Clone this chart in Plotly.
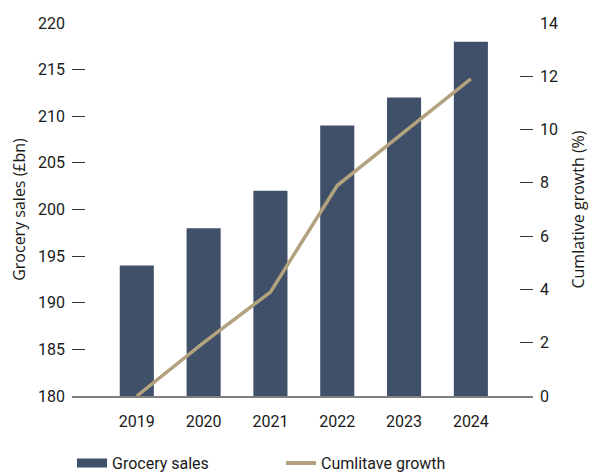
import plotly.graph_objects as go

years = ["2019", "2020", "2021", "2022", "2023", "2024"]
sales = [194, 198, 202, 209, 212, 218]
growth = [0, 2.0, 3.9, 7.9, 9.9, 11.9]
left_ticks = [180, 185, 190, 195, 200, 205, 210, 215, 220]
right_ticks = [0, 2, 4, 6, 8, 10, 12, 14]

BAR = "#3F5068"
LINE = "#B3A27E"
TICKFONT = dict(family="Roboto", size=16, color="#1a1a1a")
TITLEFONT = dict(family="Open Sans", size=16, color="#1a1a1a")

xpos = list(range(len(years)))

fig = go.Figure()
fig.add_trace(go.Bar(x=xpos, y=sales, marker=dict(color=BAR, line=dict(width=0)),
                     width=0.51, showlegend=False, name="Grocery sales"))
fig.add_trace(go.Scatter(x=xpos, y=growth, yaxis="y2", mode="lines",
                         line=dict(color=LINE, width=3.5), showlegend=False,
                         name="Cumlitave growth"))
# legend proxies
fig.add_trace(go.Scatter(x=[None], y=[None], mode="lines", name="Grocery sales",
                         line=dict(color=BAR, width=9)))
fig.add_trace(go.Scatter(x=[None], y=[None], mode="lines", name="Cumlitave growth",
                         line=dict(color=LINE, width=4)))

fig.update_layout(
    width=589, height=475,
    margin=dict(l=72, r=56, t=23, b=79, autoexpand=False),
    plot_bgcolor="white", paper_bgcolor="white",
    xaxis=dict(range=[-0.97, 5.93], tickvals=xpos, ticktext=years, showgrid=False,
               zeroline=False, showline=True, linecolor="#808080", linewidth=1.5,
               ticks="", tickfont=TICKFONT, ticklabelstandoff=10),
    yaxis=dict(range=[180, 220], tickvals=left_ticks, showgrid=False, zeroline=False,
               showline=False, ticks="inside", ticklen=13, tickwidth=1, tickcolor="#333333",
               tickfont=TICKFONT, ticklabelstandoff=6,
               title=dict(text="Grocery sales (£bn)", font=TITLEFONT, standoff=8)),
    yaxis2=dict(range=[0, 14], tickvals=right_ticks, overlaying="y", side="right",
                showgrid=False, zeroline=False, showline=False, ticks="inside",
                ticklen=13, tickwidth=1, tickcolor="#333333", tickfont=TICKFONT,
                ticklabelstandoff=6,
                title=dict(text="Cumlative growth (%)", font=TITLEFONT, standoff=16)),
    legend=dict(orientation="h", x=0.0, xanchor="left", y=-0.18, yanchor="middle",
                font=dict(family="Roboto", size=16, color="#1a1a1a"),
                entrywidth=164, entrywidthmode="pixels", itemwidth=30),
)

fig.write_html("out.html")
